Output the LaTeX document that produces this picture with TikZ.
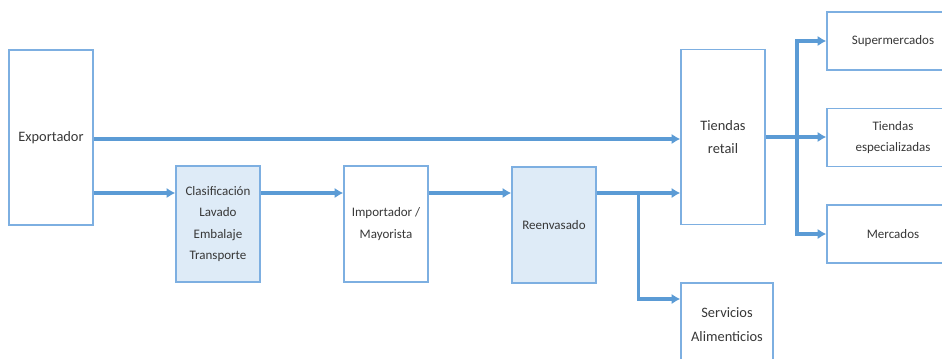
\documentclass[tikz,border=0pt]{standalone}
\usepackage{fontspec}
\setmainfont{Carlito}
\usetikzlibrary{arrows.meta,calc}
\definecolor{lineblue}{RGB}{91,155,213}
\definecolor{boxline}{RGB}{125,175,225}
\definecolor{fillblue}{RGB}{222,235,247}
\definecolor{txtgray}{RGB}{55,55,55}

\begin{document}
\begin{tikzpicture}[x=0.02cm,y=-0.02cm,
  box/.style={draw=boxline,line width=0.8pt,inner sep=0pt,align=center,text=txtgray,
    minimum width=1.68cm,minimum height=2.32cm,font=\fontsize{7.4}{12.3}\selectfont},
  big/.style={font=\fontsize{8.2}{13.6}\selectfont},
  tall/.style={minimum height=3.5cm},
  flat/.style={minimum width=2.64cm,minimum height=1.16cm},
  shaded/.style={fill=fillblue},
  conn/.style={draw=lineblue,line width=1.8pt,-{Latex[length=5pt,width=6pt]}}]
\useasboundingbox (0,0) rectangle (942,358);
\clip (0,0) rectangle (942,358);

% boxes
\node[box,big,tall] (ex) at (51,137.5) {Exportador};
\node[box,shaded] (cl) at (218,224) {Clasificación\\Lavado\\Embalaje\\Transporte};
\node[box] (im) at (386,224) {Importador /\\Mayorista};
\node[box,shaded] (re) at (554,225) {Reenvasado};
\node[box,big,tall] (tr) at (723,137) {Tiendas\\retail};
\node[box,big,minimum width=1.84cm,minimum height=1.68cm] (sa) at (727,325) {Servicios\\Alimenticios};
\node[box,flat] (su) at (893,41) {Supermercados};
\node[box,flat] (te) at (893,137.5) {Tiendas\\especializadas};
\node[box,flat] (me) at (893,234) {Mercados};

% upper flow
\coordinate (up) at ([yshift=-0.03cm]ex.east);
\draw[conn] (up) -- (up -| tr.west);

% lower flow
\coordinate (lo) at ([yshift=0.62cm]cl.west);
\draw[conn] (ex.east |- lo) -- (lo);
\draw[conn] (cl.east |- lo) -- (im.west |- lo);
\draw[conn] (im.east |- lo) -- (re.west |- lo);
\draw[conn] (re.east |- lo) -- (tr.west |- lo);
\coordinate (split) at ($(re.east |- lo)!0.5!(tr.west |- lo)$);
\draw[conn] (split) |- ([yshift=0.52cm]sa.west);

% retail channels
\coordinate (fan) at (797,137);
\draw[conn] (tr.east) -- (tr.east -| te.west);
\draw[conn] (tr.east -| fan) |- (su.west);
\draw[conn] (tr.east -| fan) |- (me.west);
\end{tikzpicture}
\end{document}
